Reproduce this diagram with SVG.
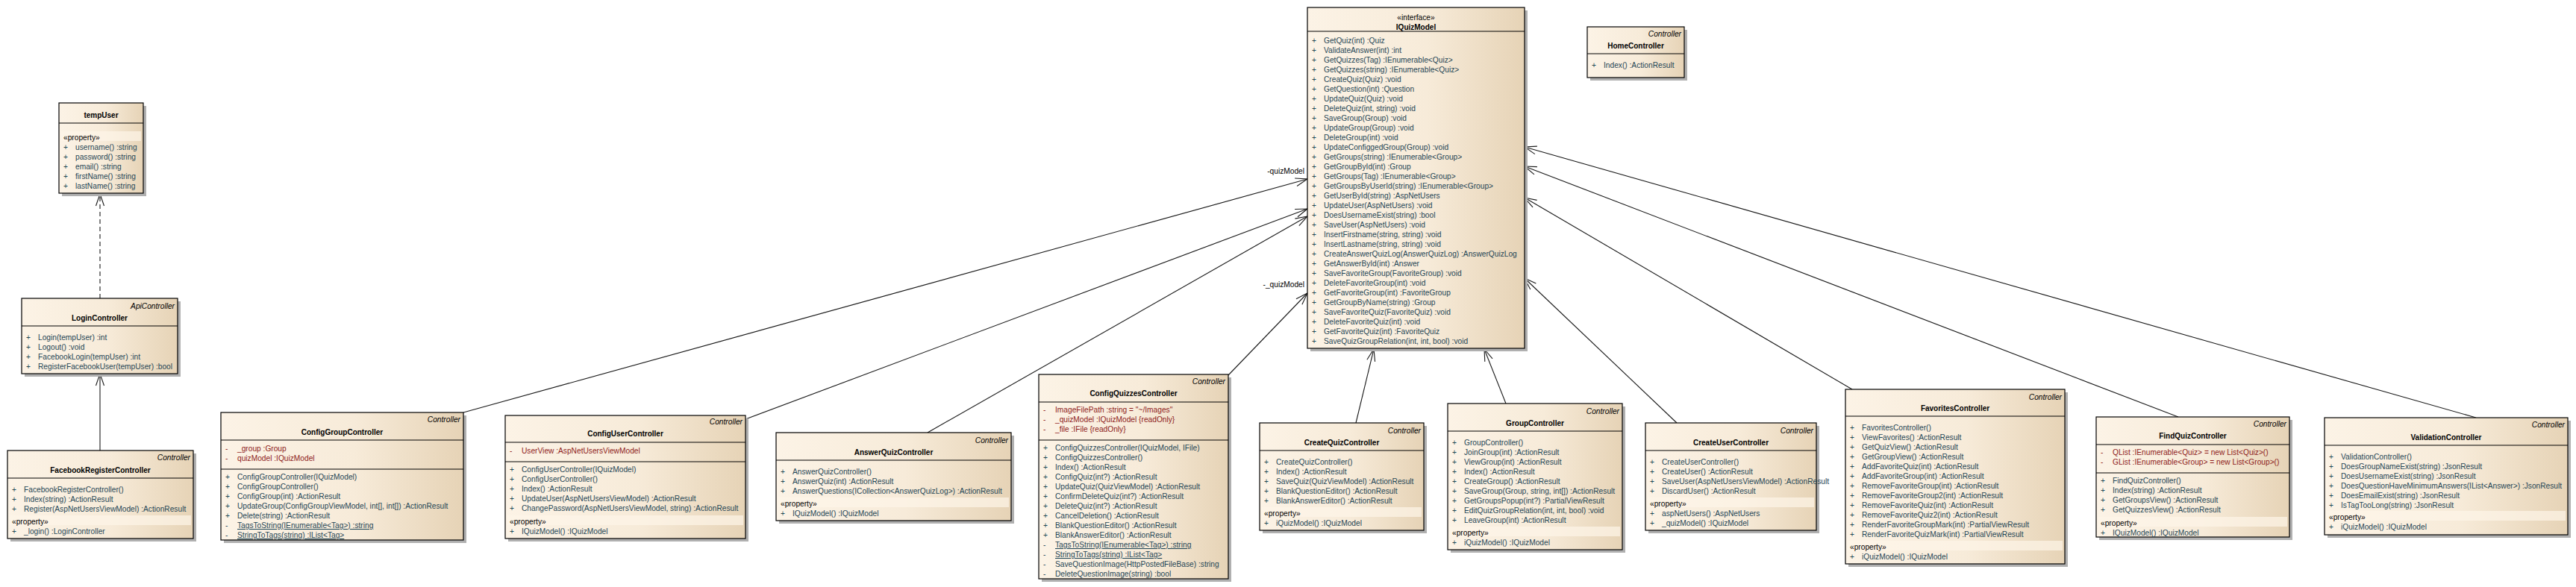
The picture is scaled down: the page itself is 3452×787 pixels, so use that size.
<svg xmlns="http://www.w3.org/2000/svg" width="3452" height="787" viewBox="0 0 3452 787" xml:space="preserve">
<defs>
<linearGradient id="cls" x1="0" y1="0" x2="1" y2="0"><stop offset="0" stop-color="#fcf3e6"/><stop offset="0.55" stop-color="#f7ebd9"/><stop offset="1" stop-color="#e6d3b6"/></linearGradient>
<marker id="ar" markerUnits="userSpaceOnUse" viewBox="-20 -10 24 20" refX="0" refY="0" markerWidth="24" markerHeight="20" orient="auto" overflow="visible"><path d="M-16,-5.5 L0,0 L-16,5.5" fill="none" stroke="#1a1a1a" stroke-width="1.1"/></marker>
<style>
.sh{fill:#b0b0b0}
.bx{fill:url(#cls);stroke:#000;stroke-width:1.2}
.sp{stroke:#000;stroke-width:1.2}
.bd{fill:#fdf5e8;fill-opacity:.7}
text{font-family:"Liberation Sans",Arial,sans-serif;font-size:10.2px}
.nm{font-weight:bold;font-size:10px;text-anchor:middle;fill:#000}
.st{font-style:italic;text-anchor:end;fill:#000}
.it{text-anchor:middle;fill:#000}
.m{fill:#1f4656}
.a{fill:#8e1b1b}
.p{fill:#000}
.u{text-decoration:underline}
.cn{fill:none;stroke:#1a1a1a;stroke-width:1.1}
.ds{stroke-dasharray:6 4}
.lb{fill:#000;text-anchor:end}
</style>
</defs>
<rect width="3452" height="787" fill="#fff"/>
<g id="connectors">
<line class="cn" x1="621" y1="553" x2="1752" y2="240" marker-end="url(#ar)"/>
<line class="cn" x1="999" y1="562" x2="1752" y2="280" marker-end="url(#ar)"/>
<line class="cn" x1="1243" y1="580" x2="1752" y2="290" marker-end="url(#ar)"/>
<line class="cn" x1="1646" y1="503" x2="1752" y2="393" marker-end="url(#ar)"/>
<line class="cn" x1="1817" y1="567" x2="1841" y2="468" marker-end="url(#ar)"/>
<line class="cn" x1="2018" y1="541" x2="1989" y2="468" marker-end="url(#ar)"/>
<line class="cn" x1="2247" y1="567" x2="2043" y2="373" marker-end="url(#ar)"/>
<line class="cn" x1="2482" y1="522" x2="2043" y2="265" marker-end="url(#ar)"/>
<line class="cn" x1="2919" y1="559" x2="2043" y2="223" marker-end="url(#ar)"/>
<line class="cn" x1="3318" y1="560" x2="2043" y2="197" marker-end="url(#ar)"/>
<line class="cn" x1="134" y1="604" x2="134" y2="501" marker-end="url(#ar)"/>
<line class="cn ds" x1="134" y1="400" x2="134" y2="260" marker-end="url(#ar)"/>
<text class="lb" x="1748" y="233">-quizModel</text>
<text class="lb" x="1748" y="385">-_quizModel</text>
</g>

<g id="tempUser">
<rect class="sh" x="83" y="142" width="113" height="121"/>
<rect class="bx" x="79" y="138" width="113" height="121"/>
<text class="nm" x="135.5" y="158">tempUser</text>
<line class="sp" x1="79" y1="165" x2="192" y2="165"/>
<rect class="bd" x="82" y="176" width="107" height="13"/>
<text class="p" x="85" y="188">«property»</text>
<text class="m" y="201"><tspan x="85">+</tspan><tspan x="101">username()  :string</tspan></text>
<text class="m" y="214"><tspan x="85">+</tspan><tspan x="101">password()  :string</tspan></text>
<text class="m" y="227"><tspan x="85">+</tspan><tspan x="101">email()  :string</tspan></text>
<text class="m" y="240"><tspan x="85">+</tspan><tspan x="101">firstName()  :string</tspan></text>
<text class="m" y="253"><tspan x="85">+</tspan><tspan x="101">lastName()  :string</tspan></text>
</g>

<g id="LoginController">
<rect class="sh" x="33" y="404" width="209" height="101"/>
<rect class="bx" x="29" y="400" width="209" height="101"/>
<text class="st" x="234" y="414">ApiController</text>
<text class="nm" x="133.5" y="430">LoginController</text>
<line class="sp" x1="29" y1="437" x2="238" y2="437"/>
<text class="m" y="456"><tspan x="35">+</tspan><tspan x="51">Login(tempUser)  :int</tspan></text>
<text class="m" y="469"><tspan x="35">+</tspan><tspan x="51">Logout()  :void</tspan></text>
<text class="m" y="482"><tspan x="35">+</tspan><tspan x="51">FacebookLogin(tempUser)  :int</tspan></text>
<text class="m" y="495"><tspan x="35">+</tspan><tspan x="51">RegisterFacebookUser(tempUser)  :bool</tspan></text>
</g>

<g id="FacebookRegisterController">
<rect class="sh" x="14" y="608" width="249" height="118"/>
<rect class="bx" x="10" y="604" width="249" height="118"/>
<text class="st" x="255" y="617">Controller</text>
<text class="nm" x="134.5" y="634">FacebookRegisterController</text>
<line class="sp" x1="10" y1="641" x2="259" y2="641"/>
<text class="m" y="660"><tspan x="16">+</tspan><tspan x="32">FacebookRegisterController()</tspan></text>
<text class="m" y="673"><tspan x="16">+</tspan><tspan x="32">Index(string)  :ActionResult</tspan></text>
<text class="m" y="686"><tspan x="16">+</tspan><tspan x="32">Register(AspNetUsersViewModel)  :ActionResult</tspan></text>
<rect class="bd" x="13" y="691" width="243" height="13"/>
<text class="p" x="16" y="703">«property»</text>
<text class="m" y="716"><tspan x="16">+</tspan><tspan x="32">_login()  :LoginController</tspan></text>
</g>

<g id="ConfigGroupController">
<rect class="sh" x="300" y="557" width="325" height="171"/>
<rect class="bx" x="296" y="553" width="325" height="171"/>
<text class="st" x="617" y="566">Controller</text>
<text class="nm" x="458.5" y="583">ConfigGroupController</text>
<line class="sp" x1="296" y1="590" x2="621" y2="590"/>
<text class="a" y="605"><tspan x="302">-</tspan><tspan x="318">_group  :Group</tspan></text>
<text class="a" y="618"><tspan x="302">-</tspan><tspan x="318">quizModel  :IQuizModel</tspan></text>
<line class="sp" x1="296" y1="629" x2="621" y2="629"/>
<text class="m" y="643"><tspan x="302">+</tspan><tspan x="318">ConfigGroupController(IQuizModel)</tspan></text>
<text class="m" y="656"><tspan x="302">+</tspan><tspan x="318">ConfigGroupController()</tspan></text>
<text class="m" y="669"><tspan x="302">+</tspan><tspan x="318">ConfigGroup(int)  :ActionResult</tspan></text>
<text class="m" y="682"><tspan x="302">+</tspan><tspan x="318">UpdateGroup(ConfigGroupViewModel, int[], int[])  :ActionResult</tspan></text>
<text class="m" y="695"><tspan x="302">+</tspan><tspan x="318">Delete(string)  :ActionResult</tspan></text>
<text class="m" y="708"><tspan x="302">-</tspan><tspan x="318" class="u">TagsToString(IEnumerable&lt;Tag&gt;)  :string</tspan></text>
<text class="m" y="721"><tspan x="302">-</tspan><tspan x="318" class="u">StringToTags(string)  :IList&lt;Tag&gt;</tspan></text>
</g>

<g id="ConfigUserController">
<rect class="sh" x="681" y="561" width="322" height="165"/>
<rect class="bx" x="677" y="557" width="322" height="165"/>
<text class="st" x="995" y="569">Controller</text>
<text class="nm" x="838" y="585">ConfigUserController</text>
<line class="sp" x1="677" y1="593" x2="999" y2="593"/>
<text class="a" y="608"><tspan x="683">-</tspan><tspan x="699">UserView  :AspNetUsersViewModel</tspan></text>
<line class="sp" x1="677" y1="619" x2="999" y2="619"/>
<text class="m" y="633"><tspan x="683">+</tspan><tspan x="699">ConfigUserController(IQuizModel)</tspan></text>
<text class="m" y="646"><tspan x="683">+</tspan><tspan x="699">ConfigUserController()</tspan></text>
<text class="m" y="659"><tspan x="683">+</tspan><tspan x="699">Index()  :ActionResult</tspan></text>
<text class="m" y="672"><tspan x="683">+</tspan><tspan x="699">UpdateUser(AspNetUsersViewModel)  :ActionResult</tspan></text>
<text class="m" y="685"><tspan x="683">+</tspan><tspan x="699">ChangePassword(AspNetUsersViewModel, string)  :ActionResult</tspan></text>
<rect class="bd" x="680" y="691" width="316" height="13"/>
<text class="p" x="683" y="703">«property»</text>
<text class="m" y="716"><tspan x="683">+</tspan><tspan x="699">IQuizModel()  :IQuizModel</tspan></text>
</g>

<g id="AnswerQuizController">
<rect class="sh" x="1044" y="584" width="315" height="118"/>
<rect class="bx" x="1040" y="580" width="315" height="118"/>
<text class="st" x="1351" y="594">Controller</text>
<text class="nm" x="1197.5" y="610">AnswerQuizController</text>
<line class="sp" x1="1040" y1="617" x2="1355" y2="617"/>
<text class="m" y="636"><tspan x="1046">+</tspan><tspan x="1062">AnswerQuizController()</tspan></text>
<text class="m" y="649"><tspan x="1046">+</tspan><tspan x="1062">AnswerQuiz(int)  :ActionResult</tspan></text>
<text class="m" y="662"><tspan x="1046">+</tspan><tspan x="1062">AnswerQuestions(ICollection&lt;AnswerQuizLog&gt;)  :ActionResult</tspan></text>
<rect class="bd" x="1043" y="667" width="309" height="13"/>
<text class="p" x="1046" y="679">«property»</text>
<text class="m" y="692"><tspan x="1046">+</tspan><tspan x="1062">IQuizModel()  :IQuizModel</tspan></text>
</g>

<g id="ConfigQuizzesController">
<rect class="sh" x="1396" y="506" width="254" height="274"/>
<rect class="bx" x="1392" y="502" width="254" height="274"/>
<text class="st" x="1642" y="515">Controller</text>
<text class="nm" x="1519" y="531">ConfigQuizzesController</text>
<line class="sp" x1="1392" y1="539" x2="1646" y2="539"/>
<text class="a" y="553"><tspan x="1398">-</tspan><tspan x="1414">ImageFilePath  :string = "~/Images"</tspan></text>
<text class="a" y="566"><tspan x="1398">-</tspan><tspan x="1414">_quizModel  :IQuizModel {readOnly}</tspan></text>
<text class="a" y="579"><tspan x="1398">-</tspan><tspan x="1414">_file  :IFile {readOnly}</tspan></text>
<line class="sp" x1="1392" y1="590" x2="1646" y2="590"/>
<text class="m" y="604"><tspan x="1398">+</tspan><tspan x="1414">ConfigQuizzesController(IQuizModel, IFile)</tspan></text>
<text class="m" y="617"><tspan x="1398">+</tspan><tspan x="1414">ConfigQuizzesController()</tspan></text>
<text class="m" y="630"><tspan x="1398">+</tspan><tspan x="1414">Index()  :ActionResult</tspan></text>
<text class="m" y="643"><tspan x="1398">+</tspan><tspan x="1414">ConfigQuiz(int?)  :ActionResult</tspan></text>
<text class="m" y="656"><tspan x="1398">+</tspan><tspan x="1414">UpdateQuiz(QuizViewModel)  :ActionResult</tspan></text>
<text class="m" y="669"><tspan x="1398">+</tspan><tspan x="1414">ConfirmDeleteQuiz(int?)  :ActionResult</tspan></text>
<text class="m" y="682"><tspan x="1398">+</tspan><tspan x="1414">DeleteQuiz(int?)  :ActionResult</tspan></text>
<text class="m" y="695"><tspan x="1398">+</tspan><tspan x="1414">CancelDeletion()  :ActionResult</tspan></text>
<text class="m" y="708"><tspan x="1398">+</tspan><tspan x="1414">BlankQuestionEditor()  :ActionResult</tspan></text>
<text class="m" y="721"><tspan x="1398">+</tspan><tspan x="1414">BlankAnswerEditor()  :ActionResult</tspan></text>
<text class="m" y="734"><tspan x="1398">-</tspan><tspan x="1414" class="u">TagsToString(IEnumerable&lt;Tag&gt;)  :string</tspan></text>
<text class="m" y="747"><tspan x="1398">-</tspan><tspan x="1414" class="u">StringToTags(string)  :IList&lt;Tag&gt;</tspan></text>
<text class="m" y="760"><tspan x="1398">-</tspan><tspan x="1414">SaveQuestionImage(HttpPostedFileBase)  :string</tspan></text>
<text class="m" y="773"><tspan x="1398">-</tspan><tspan x="1414">DeleteQuestionImage(string)  :bool</tspan></text>
</g>

<g id="CreateQuizController">
<rect class="sh" x="1692" y="571" width="220" height="144"/>
<rect class="bx" x="1688" y="567" width="220" height="144"/>
<text class="st" x="1904" y="581">Controller</text>
<text class="nm" x="1798" y="597">CreateQuizController</text>
<line class="sp" x1="1688" y1="604" x2="1908" y2="604"/>
<text class="m" y="623"><tspan x="1694">+</tspan><tspan x="1710">CreateQuizController()</tspan></text>
<text class="m" y="636"><tspan x="1694">+</tspan><tspan x="1710">Index()  :ActionResult</tspan></text>
<text class="m" y="649"><tspan x="1694">+</tspan><tspan x="1710">SaveQuiz(QuizViewModel)  :ActionResult</tspan></text>
<text class="m" y="662"><tspan x="1694">+</tspan><tspan x="1710">BlankQuestionEditor()  :ActionResult</tspan></text>
<text class="m" y="675"><tspan x="1694">+</tspan><tspan x="1710">BlankAnswerEditor()  :ActionResult</tspan></text>
<rect class="bd" x="1691" y="680" width="214" height="13"/>
<text class="p" x="1694" y="692">«property»</text>
<text class="m" y="705"><tspan x="1694">+</tspan><tspan x="1710">iQuizModel()  :IQuizModel</tspan></text>
</g>

<g id="GroupController">
<rect class="sh" x="1944" y="545" width="234" height="196"/>
<rect class="bx" x="1940" y="541" width="234" height="196"/>
<text class="st" x="2170" y="555">Controller</text>
<text class="nm" x="2057" y="571">GroupController</text>
<line class="sp" x1="1940" y1="578" x2="2174" y2="578"/>
<text class="m" y="597"><tspan x="1946">+</tspan><tspan x="1962">GroupController()</tspan></text>
<text class="m" y="610"><tspan x="1946">+</tspan><tspan x="1962">JoinGroup(int)  :ActionResult</tspan></text>
<text class="m" y="623"><tspan x="1946">+</tspan><tspan x="1962">ViewGroup(int)  :ActionResult</tspan></text>
<text class="m" y="636"><tspan x="1946">+</tspan><tspan x="1962">Index()  :ActionResult</tspan></text>
<text class="m" y="649"><tspan x="1946">+</tspan><tspan x="1962">CreateGroup()  :ActionResult</tspan></text>
<text class="m" y="662"><tspan x="1946">+</tspan><tspan x="1962">SaveGroup(Group, string, int[])  :ActionResult</tspan></text>
<text class="m" y="675"><tspan x="1946">+</tspan><tspan x="1962">GetGroupsPopup(int?)  :PartialViewResult</tspan></text>
<text class="m" y="688"><tspan x="1946">+</tspan><tspan x="1962">EditQuizGroupRelation(int, int, bool)  :void</tspan></text>
<text class="m" y="701"><tspan x="1946">+</tspan><tspan x="1962">LeaveGroup(int)  :ActionResult</tspan></text>
<rect class="bd" x="1943" y="706" width="228" height="13"/>
<text class="p" x="1946" y="718">«property»</text>
<text class="m" y="731"><tspan x="1946">+</tspan><tspan x="1962">iQuizModel()  :IQuizModel</tspan></text>
</g>

<g id="CreateUserController">
<rect class="sh" x="2209" y="571" width="229" height="144"/>
<rect class="bx" x="2205" y="567" width="229" height="144"/>
<text class="st" x="2430" y="581">Controller</text>
<text class="nm" x="2319.5" y="597">CreateUserController</text>
<line class="sp" x1="2205" y1="604" x2="2434" y2="604"/>
<text class="m" y="623"><tspan x="2211">+</tspan><tspan x="2227">CreateUserController()</tspan></text>
<text class="m" y="636"><tspan x="2211">+</tspan><tspan x="2227">CreateUser()  :ActionResult</tspan></text>
<text class="m" y="649"><tspan x="2211">+</tspan><tspan x="2227">SaveUser(AspNetUsersViewModel)  :ActionResult</tspan></text>
<text class="m" y="662"><tspan x="2211">+</tspan><tspan x="2227">DiscardUser()  :ActionResult</tspan></text>
<rect class="bd" x="2208" y="667" width="223" height="13"/>
<text class="p" x="2211" y="679">«property»</text>
<text class="m" y="692"><tspan x="2211">+</tspan><tspan x="2227">aspNetUsers()  :AspNetUsers</tspan></text>
<text class="m" y="705"><tspan x="2211">+</tspan><tspan x="2227">_quizModel()  :IQuizModel</tspan></text>
</g>

<g id="FavoritesController">
<rect class="sh" x="2477" y="526" width="294" height="234"/>
<rect class="bx" x="2473" y="522" width="294" height="234"/>
<text class="st" x="2763" y="536">Controller</text>
<text class="nm" x="2620" y="551">FavoritesController</text>
<line class="sp" x1="2473" y1="558" x2="2767" y2="558"/>
<text class="m" y="577"><tspan x="2479">+</tspan><tspan x="2495">FavoritesController()</tspan></text>
<text class="m" y="590"><tspan x="2479">+</tspan><tspan x="2495">ViewFavorites()  :ActionResult</tspan></text>
<text class="m" y="603"><tspan x="2479">+</tspan><tspan x="2495">GetQuizView()  :ActionResult</tspan></text>
<text class="m" y="616"><tspan x="2479">+</tspan><tspan x="2495">GetGroupView()  :ActionResult</tspan></text>
<text class="m" y="629"><tspan x="2479">+</tspan><tspan x="2495">AddFavoriteQuiz(int)  :ActionResult</tspan></text>
<text class="m" y="642"><tspan x="2479">+</tspan><tspan x="2495">AddFavoriteGroup(int)  :ActionResult</tspan></text>
<text class="m" y="655"><tspan x="2479">+</tspan><tspan x="2495">RemoveFavoriteGroup(int)  :ActionResult</tspan></text>
<text class="m" y="668"><tspan x="2479">+</tspan><tspan x="2495">RemoveFavoriteGroup2(int)  :ActionResult</tspan></text>
<text class="m" y="681"><tspan x="2479">+</tspan><tspan x="2495">RemoveFavoriteQuiz(int)  :ActionResult</tspan></text>
<text class="m" y="694"><tspan x="2479">+</tspan><tspan x="2495">RemoveFavoriteQuiz2(int)  :ActionResult</tspan></text>
<text class="m" y="707"><tspan x="2479">+</tspan><tspan x="2495">RenderFavoriteGroupMark(int)  :PartialViewResult</tspan></text>
<text class="m" y="720"><tspan x="2479">+</tspan><tspan x="2495">RenderFavoriteQuizMark(int)  :PartialViewResult</tspan></text>
<rect class="bd" x="2476" y="725" width="288" height="13"/>
<text class="p" x="2479" y="737">«property»</text>
<text class="m" y="750"><tspan x="2479">+</tspan><tspan x="2495">iQuizModel()  :IQuizModel</tspan></text>
</g>

<g id="FindQuizController">
<rect class="sh" x="2813" y="563" width="259" height="161"/>
<rect class="bx" x="2809" y="559" width="259" height="161"/>
<text class="st" x="3064" y="572">Controller</text>
<text class="nm" x="2938.5" y="588">FindQuizController</text>
<line class="sp" x1="2809" y1="596" x2="3068" y2="596"/>
<text class="a" y="610"><tspan x="2815">-</tspan><tspan x="2831">QList  :IEnumerable&lt;Quiz&gt; = new List&lt;Quiz&gt;()</tspan></text>
<text class="a" y="623"><tspan x="2815">-</tspan><tspan x="2831">GList  :IEnumerable&lt;Group&gt; = new List&lt;Group&gt;()</tspan></text>
<line class="sp" x1="2809" y1="634" x2="3068" y2="634"/>
<text class="m" y="648"><tspan x="2815">+</tspan><tspan x="2831">FindQuizController()</tspan></text>
<text class="m" y="661"><tspan x="2815">+</tspan><tspan x="2831">Index(string)  :ActionResult</tspan></text>
<text class="m" y="674"><tspan x="2815">+</tspan><tspan x="2831">GetGroupsView()  :ActionResult</tspan></text>
<text class="m" y="687"><tspan x="2815">+</tspan><tspan x="2831">GetQuizzesView()  :ActionResult</tspan></text>
<rect class="bd" x="2812" y="693" width="253" height="13"/>
<text class="p" x="2815" y="705">«property»</text>
<text class="m" y="718"><tspan x="2815">+</tspan><tspan x="2831">IQuizModel()  :IQuizModel</tspan></text>
</g>

<g id="ValidationController">
<rect class="sh" x="3119" y="564" width="326" height="157"/>
<rect class="bx" x="3115" y="560" width="326" height="157"/>
<text class="st" x="3437" y="573">Controller</text>
<text class="nm" x="3278" y="590">ValidationController</text>
<line class="sp" x1="3115" y1="597" x2="3441" y2="597"/>
<text class="m" y="616"><tspan x="3121">+</tspan><tspan x="3137">ValidationController()</tspan></text>
<text class="m" y="629"><tspan x="3121">+</tspan><tspan x="3137">DoesGroupNameExist(string)  :JsonResult</tspan></text>
<text class="m" y="642"><tspan x="3121">+</tspan><tspan x="3137">DoesUsernameExist(string)  :JsonResult</tspan></text>
<text class="m" y="655"><tspan x="3121">+</tspan><tspan x="3137">DoesQuestionHaveMinimumAnswers(IList&lt;Answer&gt;)  :JsonResult</tspan></text>
<text class="m" y="668"><tspan x="3121">+</tspan><tspan x="3137">DoesEmailExist(string)  :JsonResult</tspan></text>
<text class="m" y="681"><tspan x="3121">+</tspan><tspan x="3137">IsTagTooLong(string)  :JsonResult</tspan></text>
<rect class="bd" x="3118" y="685" width="320" height="13"/>
<text class="p" x="3121" y="697">«property»</text>
<text class="m" y="710"><tspan x="3121">+</tspan><tspan x="3137">iQuizModel()  :IQuizModel</tspan></text>
</g>

<g id="HomeController">
<rect class="sh" x="2131" y="40" width="130" height="68"/>
<rect class="bx" x="2127" y="36" width="130" height="68"/>
<text class="st" x="2253" y="49">Controller</text>
<text class="nm" x="2192" y="65">HomeController</text>
<line class="sp" x1="2127" y1="72" x2="2257" y2="72"/>
<text class="m" y="91"><tspan x="2133">+</tspan><tspan x="2149">Index()  :ActionResult</tspan></text>
</g>

<g id="IQuizModel">
<rect class="sh" x="1756" y="14" width="291" height="457"/>
<rect class="bx" x="1752" y="10" width="291" height="457"/>
<text class="it" x="1897.5" y="27">«interface»</text>
<text class="nm" x="1897.5" y="39.5">IQuizModel</text>
<line class="sp" x1="1752" y1="42" x2="2043" y2="42"/>
<text class="m" y="57.5"><tspan x="1758">+</tspan><tspan x="1774">GetQuiz(int)  :Quiz</tspan></text>
<text class="m" y="70.5"><tspan x="1758">+</tspan><tspan x="1774">ValidateAnswer(int)  :int</tspan></text>
<text class="m" y="83.5"><tspan x="1758">+</tspan><tspan x="1774">GetQuizzes(Tag)  :IEnumerable&lt;Quiz&gt;</tspan></text>
<text class="m" y="96.5"><tspan x="1758">+</tspan><tspan x="1774">GetQuizzes(string)  :IEnumerable&lt;Quiz&gt;</tspan></text>
<text class="m" y="109.5"><tspan x="1758">+</tspan><tspan x="1774">CreateQuiz(Quiz)  :void</tspan></text>
<text class="m" y="122.5"><tspan x="1758">+</tspan><tspan x="1774">GetQuestion(int)  :Question</tspan></text>
<text class="m" y="135.5"><tspan x="1758">+</tspan><tspan x="1774">UpdateQuiz(Quiz)  :void</tspan></text>
<text class="m" y="148.5"><tspan x="1758">+</tspan><tspan x="1774">DeleteQuiz(int, string)  :void</tspan></text>
<text class="m" y="161.5"><tspan x="1758">+</tspan><tspan x="1774">SaveGroup(Group)  :void</tspan></text>
<text class="m" y="174.5"><tspan x="1758">+</tspan><tspan x="1774">UpdateGroup(Group)  :void</tspan></text>
<text class="m" y="187.5"><tspan x="1758">+</tspan><tspan x="1774">DeleteGroup(int)  :void</tspan></text>
<text class="m" y="200.5"><tspan x="1758">+</tspan><tspan x="1774">UpdateConfiggedGroup(Group)  :void</tspan></text>
<text class="m" y="213.5"><tspan x="1758">+</tspan><tspan x="1774">GetGroups(string)  :IEnumerable&lt;Group&gt;</tspan></text>
<text class="m" y="226.5"><tspan x="1758">+</tspan><tspan x="1774">GetGroupById(int)  :Group</tspan></text>
<text class="m" y="239.5"><tspan x="1758">+</tspan><tspan x="1774">GetGroups(Tag)  :IEnumerable&lt;Group&gt;</tspan></text>
<text class="m" y="252.5"><tspan x="1758">+</tspan><tspan x="1774">GetGroupsByUserId(string)  :IEnumerable&lt;Group&gt;</tspan></text>
<text class="m" y="265.5"><tspan x="1758">+</tspan><tspan x="1774">GetUserById(string)  :AspNetUsers</tspan></text>
<text class="m" y="278.5"><tspan x="1758">+</tspan><tspan x="1774">UpdateUser(AspNetUsers)  :void</tspan></text>
<text class="m" y="291.5"><tspan x="1758">+</tspan><tspan x="1774">DoesUsernameExist(string)  :bool</tspan></text>
<text class="m" y="304.5"><tspan x="1758">+</tspan><tspan x="1774">SaveUser(AspNetUsers)  :void</tspan></text>
<text class="m" y="317.5"><tspan x="1758">+</tspan><tspan x="1774">InsertFirstname(string, string)  :void</tspan></text>
<text class="m" y="330.5"><tspan x="1758">+</tspan><tspan x="1774">InsertLastname(string, string)  :void</tspan></text>
<text class="m" y="343.5"><tspan x="1758">+</tspan><tspan x="1774">CreateAnswerQuizLog(AnswerQuizLog)  :AnswerQuizLog</tspan></text>
<text class="m" y="356.5"><tspan x="1758">+</tspan><tspan x="1774">GetAnswerById(int)  :Answer</tspan></text>
<text class="m" y="369.5"><tspan x="1758">+</tspan><tspan x="1774">SaveFavoriteGroup(FavoriteGroup)  :void</tspan></text>
<text class="m" y="382.5"><tspan x="1758">+</tspan><tspan x="1774">DeleteFavoriteGroup(int)  :void</tspan></text>
<text class="m" y="395.5"><tspan x="1758">+</tspan><tspan x="1774">GetFavoriteGroup(int)  :FavoriteGroup</tspan></text>
<text class="m" y="408.5"><tspan x="1758">+</tspan><tspan x="1774">GetGroupByName(string)  :Group</tspan></text>
<text class="m" y="421.5"><tspan x="1758">+</tspan><tspan x="1774">SaveFavoriteQuiz(FavoriteQuiz)  :void</tspan></text>
<text class="m" y="434.5"><tspan x="1758">+</tspan><tspan x="1774">DeleteFavoriteQuiz(int)  :void</tspan></text>
<text class="m" y="447.5"><tspan x="1758">+</tspan><tspan x="1774">GetFavoriteQuiz(int)  :FavoriteQuiz</tspan></text>
<text class="m" y="460.5"><tspan x="1758">+</tspan><tspan x="1774">SaveQuizGroupRelation(int, int, bool)  :void</tspan></text>
</g>
</svg>
